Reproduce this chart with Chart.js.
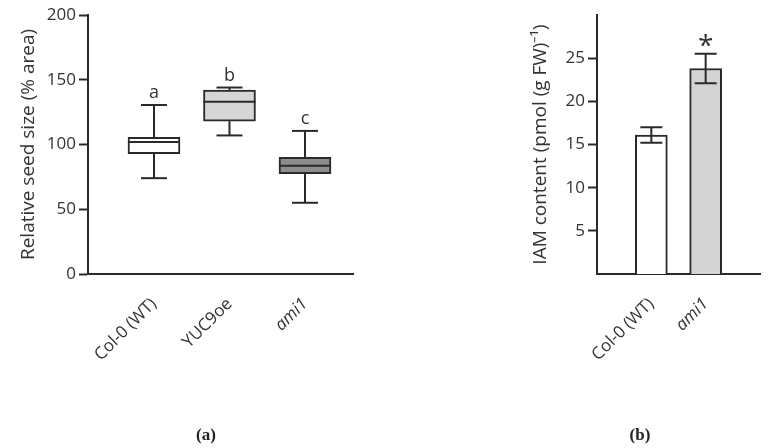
<!DOCTYPE html>
<html>
<head>
<meta charset="utf-8">
<script src="https://cdn.jsdelivr.net/npm/chart.js@4.4.1/dist/chart.umd.min.js"></script>
<style>
  body { margin: 0; background: #fff; }
  .wrap { position: relative; width: 769px; height: 448px; overflow: hidden; }
  canvas { position: absolute; top: 0; }
  .panel { position: absolute; top: 425px; font: bold 17px 'Liberation Serif', serif; color: #222; transform: translateX(-50%); }
</style>
</head>
<body>
<div class="wrap">
  <canvas id="seed" width="380" height="448" style="left:0"></canvas>
  <canvas id="iam" width="389" height="448" style="left:380px"></canvas>
  <div class="panel" style="left:206px">(a)</div>
  <div class="panel" style="left:640px">(b)</div>
</div>
<script>
// panel (a) - relative seed size, box plots
const seedGroups = ['Col-0 (WT)', 'YUC9oe', 'ami1'];
const seedMin = [74, 107, 55];
const seedQ1 = [93, 118, 77.5];
const seedMedian = [102, 133, 83.5];
const seedQ3 = [105.5, 142, 90];
const seedMax = [130.5, 144, 110.5];
const seedLetters = ['a', 'b', 'c'];
const seedFill = ['#ffffff', '#d6d6d6', '#8c8c8c'];
const seedTicks = [0, 50, 100, 150, 200];

// panel (b) - IAM content, bars with error bars
const iamGroups = ['Col-0 (WT)', 'ami1'];
const iamMean = [16.1, 23.8];
const iamErr = [0.9, 1.7];
const iamMarks = ['', '*'];
const iamFill = ['#ffffff', '#d4d4d4'];
const iamTicks = [5, 10, 15, 20, 25];

const ink = '#2a2a2a';
const textCol = '#333';
const sans = "'Open Sans', sans-serif";

const tickFont = (ctx, italicIdx) => ({
  family: sans,
  size: 17,
  style: ctx.tick && ctx.tick.value === italicIdx ? 'italic' : 'normal'
});

const yAxis = (min, max, ticks, title, width) => ({
  min, max,
  afterBuildTicks: s => { s.ticks = ticks.map(v => ({ value: v })); },
  afterFit: s => { s.width = width; },
  ticks: { color: textCol, font: { family: sans, size: 17 }, padding: 3 },
  grid: { drawOnChartArea: false, drawTicks: true, tickLength: 9, tickWidth: 2, tickColor: ink, color: ink },
  border: { color: ink, width: 2 },
  title: { display: true, text: title, color: textCol, font: { family: sans, size: 19 }, padding: { top: 3, bottom: 0 } }
});

const xAxis = (min, max, names, italicIdx) => ({
  type: 'linear', min, max, offset: false,
  afterBuildTicks: s => { s.ticks = names.map((_, i) => ({ value: i })); },
  afterFit: s => { s.height = 448 - 274; },
  ticks: {
    callback: v => names[v], autoSkip: false, minRotation: 45, maxRotation: 45,
    padding: 20, color: textCol, font: ctx => tickFont(ctx, italicIdx)
  },
  grid: { display: false, drawTicks: false, offset: false },
  border: { color: ink, width: 2 }
});

const boxPlugin = {
  id: 'boxes',
  afterDatasetsDraw(chart) {
    const { ctx, scales: { x, y } } = chart;
    const half = 26, cap = 13;
    ctx.save();
    ctx.strokeStyle = ink;
    ctx.lineWidth = 2;
    seedGroups.forEach((g, i) => {
      const px = x.getPixelForValue(i);
      const line = (x1, y1, x2, y2) => { ctx.beginPath(); ctx.moveTo(x1, y1); ctx.lineTo(x2, y2); ctx.stroke(); };
      line(px, y.getPixelForValue(seedQ3[i]), px, y.getPixelForValue(seedMax[i]));
      line(px, y.getPixelForValue(seedQ1[i]), px, y.getPixelForValue(seedMin[i]));
      line(px - cap, y.getPixelForValue(seedMax[i]), px + cap, y.getPixelForValue(seedMax[i]));
      line(px - cap, y.getPixelForValue(seedMin[i]), px + cap, y.getPixelForValue(seedMin[i]));
      line(px - half, y.getPixelForValue(seedMedian[i]), px + half, y.getPixelForValue(seedMedian[i]));
      ctx.fillStyle = textCol;
      ctx.font = '18px ' + sans;
      ctx.textAlign = 'center';
      ctx.textBaseline = 'bottom';
      ctx.fillText(seedLetters[i], px, y.getPixelForValue(seedMax[i]) - 3);
    });
    ctx.restore();
  }
};

const errPlugin = {
  id: 'errbars',
  afterDatasetsDraw(chart) {
    const { ctx, scales: { x, y } } = chart;
    const cap = 11;
    ctx.save();
    ctx.strokeStyle = ink;
    ctx.lineWidth = 2;
    iamGroups.forEach((g, i) => {
      const px = x.getPixelForValue(i);
      const top = y.getPixelForValue(iamMean[i] + iamErr[i]);
      const bot = y.getPixelForValue(iamMean[i] - iamErr[i]);
      ctx.beginPath();
      ctx.moveTo(px, top); ctx.lineTo(px, bot);
      ctx.moveTo(px - cap, top); ctx.lineTo(px + cap, top);
      ctx.moveTo(px - cap, bot); ctx.lineTo(px + cap, bot);
      ctx.stroke();
      if (iamMarks[i]) {
        ctx.fillStyle = textCol;
        ctx.font = '28px ' + sans;
        ctx.textAlign = 'center';
        ctx.textBaseline = 'alphabetic';
        ctx.fillText(iamMarks[i], px, top + 1);
      }
    });
    ctx.restore();
  }
};

const common = {
  responsive: false,
  animation: false,
  plugins: { legend: { display: false }, tooltip: { enabled: false } }
};

new Chart(document.getElementById('seed'), {
  type: 'bar',
  data: {
    datasets: [{
      data: seedGroups.map((g, i) => ({ x: i, y: [seedQ1[i], seedQ3[i]] })),
      backgroundColor: seedFill,
      borderColor: ink,
      borderWidth: 2,
      borderSkipped: false,
      barThickness: 52
    }]
  },
  options: {
    ...common,
    layout: { padding: { left: 14, top: 15, right: 27, bottom: 0 } },
    scales: {
      x: xAxis(-0.874, 2.636, seedGroups, 2),
      y: yAxis(0, 200, seedTicks, 'Relative seed size (% area)', 74)
    }
  },
  plugins: [boxPlugin]
});

new Chart(document.getElementById('iam'), {
  type: 'bar',
  data: {
    datasets: [{
      data: iamGroups.map((g, i) => ({ x: i, y: iamMean[i] })),
      backgroundColor: iamFill,
      borderColor: ink,
      borderWidth: 2,
      borderSkipped: 'bottom',
      barThickness: 32
    }]
  },
  options: {
    ...common,
    layout: { padding: { left: 146, top: 15, right: 9, bottom: 0 } },
    scales: {
      x: xAxis(-1, 2, iamGroups, 1),
      y: yAxis(0, 30, iamTicks, 'IAM content (pmol (g FW)\u207B\u00B9)', 71)
    }
  },
  plugins: [errPlugin]
});
</script>
</body>
</html>
